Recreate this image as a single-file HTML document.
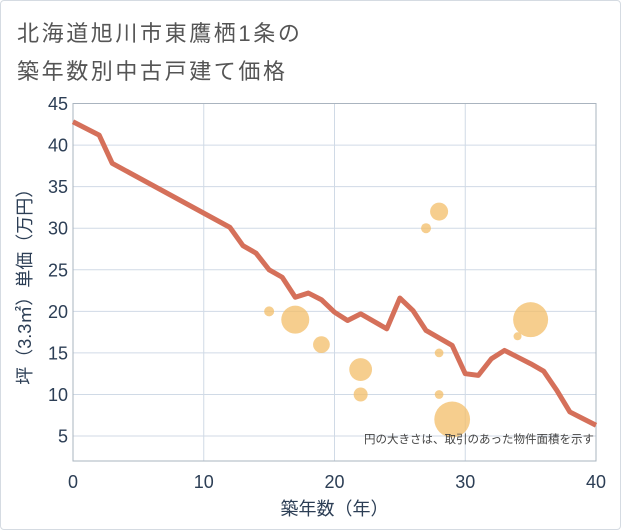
<!DOCTYPE html>
<html><head><meta charset="utf-8">
<style>
html,body{margin:0;padding:0;background:#fff;}
body{width:621px;height:530px;overflow:hidden;font-family:"Liberation Sans","Noto Sans CJK JP",sans-serif;}
#frame{position:absolute;left:0;top:0;width:619px;height:528px;border:1px solid #d5dbe2;border-radius:4px;}
.title{position:absolute;left:17px;font-size:22px;color:#555;letter-spacing:2.6px;white-space:nowrap;}
</style></head><body>
<div id="frame"></div>
<div class="title" style="top:16px">北海道旭川市東鷹栖1条の</div>
<div class="title" style="top:54px">築年数別中古戸建て価格</div>
<svg id="chart" width="621" height="530" style="position:absolute;left:0;top:0"></svg>
<script>
const lineYears=[0,2,3,12,13,14,15,16,17,18,19,20,21,22,23,24,25,26,27,28,29,30,31,32,33,34,35,36,37,38,39,40];
const linePrices=[42.8,41.2,37.8,30.1,27.9,27.0,25.0,24.1,21.7,22.2,21.4,19.9,18.9,19.7,18.8,17.9,21.6,20.1,17.7,16.8,15.9,12.5,12.3,14.3,15.3,14.5,13.7,12.8,10.5,7.9,7.1,6.3];
const bubbleYears=[15,17,19,22,22,27,28,28,28,29,34,35];
const bubblePrices=[20,19,16,13,10,30,32,15,10,7,17,19];
const bubbleAreas=[25,196,70,130,49,25,81,19,19,320,16,306];
const xTicks=[0,10,20,30,40];
const yTicks=[5,10,15,20,25,30,35,40,45];
const NS="http://www.w3.org/2000/svg";
const svg=document.getElementById('chart');
const L=73,R=596,T=103.5,B=461,xmin=0,xmax=40,ymin=2,ymax=45;
const xs=v=>L+(v-xmin)/(xmax-xmin)*(R-L);
const ys=v=>B-(v-ymin)/(ymax-ymin)*(B-T);
function mk(tag,attrs){const e=document.createElementNS(NS,tag);for(const k in attrs)e.setAttribute(k,attrs[k]);svg.appendChild(e);return e;}
xTicks.forEach(t=>{
  const g=mk('line',{x1:xs(t),x2:xs(t),y1:T,y2:B,stroke:'#d0dae6','stroke-width':1});
  
  
  const tx=mk('text',{x:xs(t),y:B+27,'text-anchor':'middle','font-size':18,fill:'#2c3e55'});
  tx.textContent=t;
  
  
});
yTicks.forEach(t=>{
  const g=mk('line',{x1:L,x2:R,y1:ys(t),y2:ys(t),stroke:'#d0dae6','stroke-width':1});
  
  
  const tx=mk('text',{x:L-5,y:ys(t)+6.5,'text-anchor':'end','font-size':18,fill:'#2c3e55'});
  tx.textContent=t;
  
  
});
const box=mk('rect',{x:L,y:T,width:R-L,height:B-T,fill:'none',stroke:'#aab4bf','stroke-width':1});


let d='';
lineYears.forEach((x,i)=>{d+=(i?'L':'M')+xs(x)+','+ys(linePrices[i]);});
const path=mk('path',{d:d,fill:'none',stroke:'#d5705a','stroke-width':5,'stroke-linejoin':'round'});


bubbleYears.forEach((x,i)=>{
  const c=mk('circle',{cx:xs(x),cy:ys(bubblePrices[i]),r:Math.sqrt(bubbleAreas[i]),fill:'#f3bd68','fill-opacity':0.75});
  
  
});
const note=mk('text',{x:R-2,y:443,'text-anchor':'end','font-size':11.5,fill:'#444'});
note.textContent='円の大きさは、取引のあった物件面積を示す';


const xt=mk('text',{x:(L+R)/2,y:515,'text-anchor':'middle','font-size':18,fill:'#2c3e55'});
xt.textContent='築年数（年）';


const yt=mk('text',{x:0,y:0,'text-anchor':'middle','font-size':18,fill:'#2c3e55',transform:'translate(31,'+((T+B)/2)+') rotate(-90)'});
yt.textContent='坪（3.3㎡）単価（万円）';


</script>
</body></html>
